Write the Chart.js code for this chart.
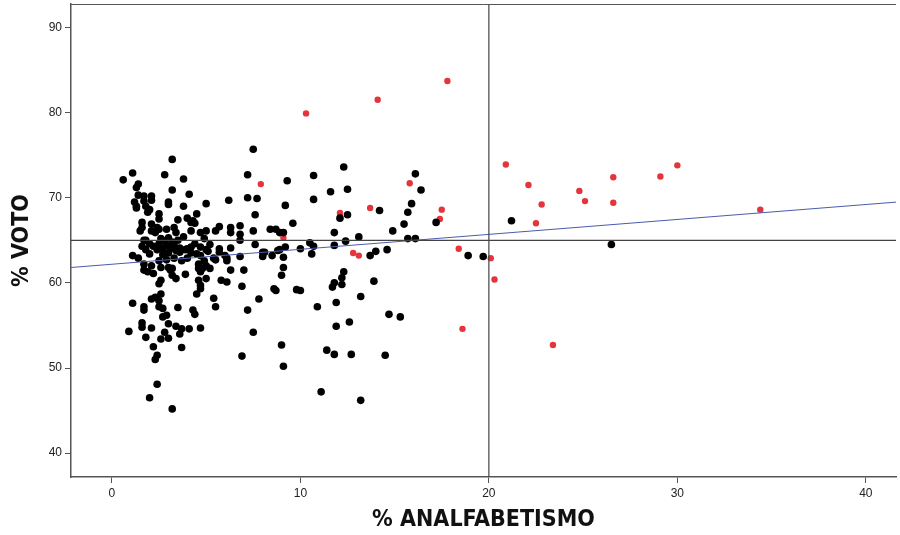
<!DOCTYPE html>
<html>
<head>
<meta charset="utf-8">
<script src="https://cdn.jsdelivr.net/npm/chart.js@4.4.1/dist/chart.umd.min.js"></script>
<style>
  body { margin: 0; background: #fff; }
  #chart { display: block; }
</style>
</head>
<body>
<canvas id="chart" width="900" height="535"></canvas>
<script>
// municipalities under the 20% literacy line (black)
var blackX = [7.5, 3.2, 0.6, 1.1, 2.8, 3.8, 7.2, 9.3, 1.4, 1.3, 3.2, 4.1, 1.4, 1.7, 2.1, 1.2, 1.7, 2.1, 3.0, 3.0,
  5.0, 6.2, 7.2, 7.7, 9.2, 1.3, 1.3, 1.8, 2.0, 1.9, 3.8, 2.5, 2.5, 4.5, 7.6, 3.5, 4.0, 4.2, 4.4, 1.6,
  1.6, 1.5, 2.1, 2.1, 2.4, 2.5, 2.3, 2.9, 3.3, 3.4, 4.2, 4.7, 5.0, 5.5, 5.7, 6.3, 6.3, 6.8, 7.5, 8.4,
  8.7, 9.1, 9.6, 1.8, 2.0, 1.7, 2.5, 2.7, 2.9, 3.2, 3.3, 3.6, 4.0, 4.2, 5.7, 6.3, 6.8, 7.6, 8.1, 8.5,
  8.8, 9.2, 1.1, 1.4, 4.5, 5.4, 6.0, 6.1, 6.8, 8.0,
  4.7, 5.1, 5.7, 8.0, 9.1, 9.1, 1.7, 2.1, 1.7, 1.9, 2.2, 2.6, 3.0, 3.1, 3.2, 3.4, 3.9, 2.5, 2.6, 4.6,
  4.8, 5.0, 4.7, 4.6, 5.0, 5.8, 6.1, 6.3, 7.0, 6.9, 8.6, 8.7, 9.0, 9.8, 4.5, 4.7, 4.7, 2.1, 2.3, 2.6,
  2.5, 1.1, 1.7, 1.7, 2.5, 2.7, 3.5, 4.3, 4.4, 5.4, 5.5, 7.2, 7.8, 2.7, 2.9, 3.0, 1.6, 1.6, 2.1, 3.4,
  3.7, 4.1, 4.7, 0.9, 2.8, 3.6, 1.8, 2.6, 3.0, 7.5, 2.2, 3.7, 2.4, 2.3, 6.9, 9.0, 9.1, 2.4, 2.0, 3.2,
  12.3, 10.7, 16.1, 16.4, 11.6, 12.5, 10.7, 15.9, 15.7, 12.1, 12.5, 14.2, 17.2, 15.5, 14.9, 11.8, 8.9, 13.1, 12.4, 15.7,
  16.1, 10.5, 10.7, 10.0, 11.8, 8.9, 10.6, 13.7, 14.0, 14.6, 18.9, 19.7,
  12.3, 12.2, 11.8, 11.7, 12.2, 13.9, 10.0, 13.2, 10.9, 11.9, 14.7, 15.3, 12.6, 11.9, 11.4, 11.8, 12.7, 14.5, 11.1, 13.2,
  21.2, 26.5,
  6.8, 4.9, 4.6, 5.2, 5.5, 6.1, 4.3, 3.2,
  2.6, 2.8, 3.0, 3.2, 3.4, 3.0, 2.7, 3.6, 3.9, 4.2, 3.3, 2.9, 3.7, 2.4, 2.2, 3.1, 4.0, 3.5, 2.5, 4.4,
  4.7, 5.0, 5.2, 4.9, 3.8, 2.0, 1.8, 1.6];
var blackY = [75.7, 74.5, 72.1, 72.9, 72.7, 72.2, 72.7, 72.0, 71.6, 71.2, 70.9, 70.4, 70.3, 70.2, 70.2, 69.5, 69.6, 69.7, 69.5, 69.2,
  69.3, 69.7, 70.0, 69.9, 69.1, 69.0, 68.8, 69.0, 68.6, 68.3, 69.0, 68.1, 67.5, 68.1, 68.0, 67.4, 67.6, 67.1, 67.0, 67.1,
  66.5, 66.1, 66.9, 66.1, 66.5, 66.3, 65.9, 66.3, 66.5, 65.9, 66.1, 65.9, 66.1, 66.1, 66.6, 66.5, 65.9, 65.7, 66.1, 66.3,
  66.3, 65.9, 67.0, 65.0, 64.6, 65.0, 64.6, 64.0, 64.4, 64.8, 64.4, 64.1, 64.0, 64.2, 64.0, 64.1, 65.0, 64.5, 63.6, 63.2,
  63.8, 64.2, 63.2, 62.9, 63.4, 62.9, 63.2, 62.9, 63.1, 63.1,
  63.2, 63.7, 63.6, 63.6, 63.0, 61.8, 62.2, 62.0, 61.5, 61.3, 61.1, 61.8, 61.8, 61.5, 60.9, 60.5, 61.0, 59.9, 60.3, 62.2,
  61.7, 62.0, 61.3, 60.3, 60.5, 60.3, 60.1, 61.5, 61.5, 59.6, 59.3, 59.1, 60.9, 59.2, 58.7, 59.3, 59.7, 58.1, 58.3, 58.7,
  57.9, 57.6, 57.2, 56.8, 57.2, 57.0, 57.1, 56.8, 56.3, 58.2, 57.2, 56.8, 58.1, 56.0, 56.2, 55.2, 55.3, 54.8, 54.7, 54.9,
  54.6, 54.6, 54.7, 54.3, 54.2, 54.0, 53.6, 53.4, 53.5, 54.2, 52.5, 52.4, 51.5, 51.0, 51.4, 52.7, 50.2, 48.1, 46.5, 45.2,
  73.6, 72.6, 72.8, 70.9, 70.7, 71.0, 69.8, 69.3, 68.3, 67.6, 68.0, 68.5, 67.1, 66.9, 66.1, 65.9, 65.9, 65.4, 64.9, 65.2,
  65.2, 64.7, 64.3, 64.0, 64.4, 63.9, 63.4, 63.2, 63.7, 63.9, 63.2, 63.1,
  61.3, 60.6, 60.0, 59.5, 59.8, 60.2, 59.1, 58.4, 57.2, 57.7, 56.3, 56.0, 55.4, 54.9, 52.1, 51.6, 51.6, 51.5, 47.2, 46.2,
  67.3, 64.5,
  66.7, 62.6, 61.7, 61.7, 62.7, 62.6, 67.3, 61.7,
  65.2, 64.9, 65.3, 64.2, 63.8, 63.5, 63.3, 63.6, 63.9, 63.5, 62.9, 62.7, 62.6, 63.9, 64.3, 64.0, 62.9, 65.0, 62.6, 64.6,
  64.2, 63.9, 64.5, 65.2, 65.4, 63.4, 63.9, 64.3];

// highlighted municipalities (red)
var redX = [7.9, 9.1, 10.3, 14.1, 17.8, 15.8, 13.7, 12.1, 17.5, 17.4, 12.8, 13.1, 18.4, 20.1, 20.3, 18.6,
  20.9, 22.1, 24.8, 26.6, 29.1, 30.0, 25.1, 26.6, 22.8, 22.5, 34.4, 23.4];
var redY = [71.6, 65.3, 79.9, 81.5, 83.7, 71.7, 68.8, 68.2, 68.6, 67.5, 63.5, 63.2, 64.0, 62.9, 60.4, 54.6,
  73.9, 71.5, 70.8, 72.4, 72.5, 73.8, 69.6, 69.4, 69.2, 67.0, 68.6, 52.7];

// fit line ends and reference lines
var fitX = [-2.2, 41.7];
var fitY = [61.8, 69.5];
var refX = 20;
var refY = 65;

var xTicks = [0, 10, 20, 30, 40];
var yTicks = [40, 50, 60, 70, 80, 90];

var axisColor = '#555';
var tickFont = { family: "'Liberation Sans', sans-serif", size: 12 };
var titleFont = { family: "'DejaVu Sans Condensed', 'DejaVu Sans', sans-serif", size: 23, weight: 'bold' };

function toPoints(xs, ys) {
  return xs.map(function (x, i) { return { x: x, y: ys[i] }; });
}

// top edge of the plot frame
var frame = {
  id: 'frame',
  afterDraw: function (chart) {
    var a = chart.chartArea, ctx = chart.ctx;
    ctx.save();
    ctx.strokeStyle = axisColor;
    ctx.lineWidth = 1;
    ctx.beginPath();
    ctx.moveTo(a.left, a.top + 0.5);
    ctx.lineTo(a.right, a.top + 0.5);
    ctx.stroke();
    ctx.restore();
  }
};

new Chart(document.getElementById('chart'), {
  type: 'scatter',
  data: {
    datasets: [{
      label: 'ref x',
      data: [{ x: refX, y: 30 }, { x: refX, y: 100 }],
      showLine: true,
      borderColor: '#444',
      borderWidth: 1.2,
      pointRadius: 0
    }, {
      label: 'ref y',
      data: [{ x: -10, y: refY }, { x: 50, y: refY }],
      showLine: true,
      borderColor: '#444',
      borderWidth: 1.2,
      pointRadius: 0
    }, {
      label: 'fit',
      data: toPoints(fitX, fitY),
      showLine: true,
      borderColor: '#4b5cab',
      borderWidth: 1,
      pointRadius: 0
    }, {
      label: 'black',
      data: toPoints(blackX, blackY),
      backgroundColor: '#000',
      borderWidth: 0,
      pointRadius: 3.8
    }, {
      label: 'red',
      data: toPoints(redX, redY),
      backgroundColor: '#e3353b',
      borderWidth: 0,
      pointRadius: 3.2
    }]
  },
  options: {
    responsive: false,
    animation: false,
    layout: { padding: { top: 3, right: 0, left: 0, bottom: 0 } },
    plugins: {
      legend: { display: false },
      tooltip: { enabled: false }
    },
    scales: {
      x: {
        type: 'linear',
        min: -2.17,
        max: 41.6,
        afterBuildTicks: function (axis) {
          axis.ticks = xTicks.map(function (v) { return { value: v }; });
        },
        afterFit: function (scale) {
          scale.height = 58;
          scale.paddingLeft = 0;
          scale.paddingRight = 0;
        },
        grid: { drawOnChartArea: false, tickLength: 6, color: axisColor },
        border: { color: axisColor, width: 1.5 },
        ticks: { font: tickFont, color: '#222', padding: 3, maxRotation: 0 },
        title: { display: true, text: '% ANALFABETISMO', font: titleFont, color: '#111', padding: { top: 0, bottom: 1 } }
      },
      y: {
        type: 'linear',
        min: 37.2,
        max: 92.75,
        afterBuildTicks: function (axis) {
          axis.ticks = yTicks.map(function (v) { return { value: v }; });
        },
        afterFit: function (scale) {
          scale.width = 71;
          scale.paddingTop = 0;
          scale.paddingBottom = 0;
        },
        grid: { drawOnChartArea: false, tickLength: 6, color: axisColor },
        border: { color: axisColor, width: 1.5 },
        ticks: { font: tickFont, color: '#222', padding: 3 },
        title: { display: true, text: '% VOTO', font: titleFont, color: '#111', padding: { top: 8, bottom: 0 } }
      }
    }
  },
  plugins: [frame]
});
</script>
</body>
</html>
